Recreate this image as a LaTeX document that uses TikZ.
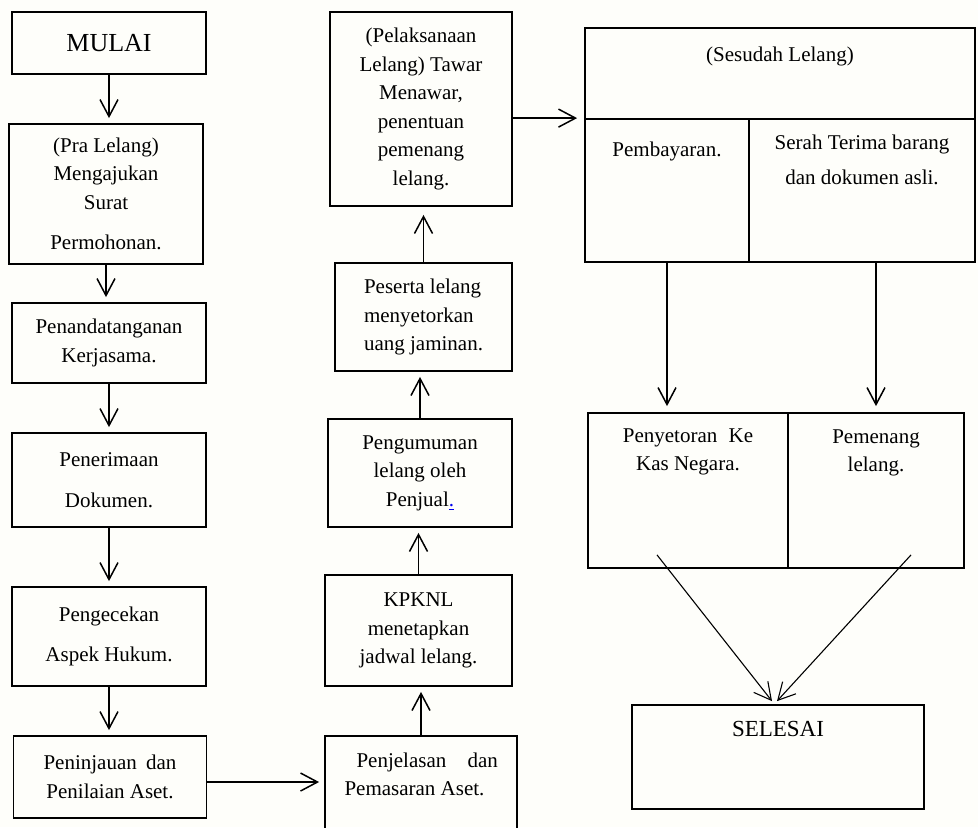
\documentclass[tikz,border=0pt]{standalone}
\usepackage{fontspec}
\setmainfont{Liberation Serif}
\usepackage{xcolor}
\definecolor{paper}{RGB}{254,254,250}
\definecolor{linkblue}{RGB}{0,0,238}
\usetikzlibrary{arrows.meta}
\newcommand{\flowfont}{\fontsize{10.5}{14.25}\selectfont}

\begin{document}
\begin{tikzpicture}[
  x=0.5pt, y=-0.5pt,
  box/.style={draw, line width=0.9pt, align=center, inner sep=2pt, font=\flowfont},
  cell/.style={draw, line width=0.9pt, inner sep=0pt},
  toptext/.style={anchor=north, inner sep=0pt, align=center, font=\flowfont},
  arr/.style={-{Straight Barb[length=8.5pt, width=9pt]}, line width=0.75pt, shorten >=2.5pt},
  thinarr/.style={-{Straight Barb[length=8.5pt, width=9pt]}, line width=0.55pt},
]
  \clip (0,0) rectangle (978,827);
  \fill[paper] (0,0) rectangle (978,827);

  % pra lelang column
  \node[box, minimum width=97pt, minimum height=31pt, font=\fontsize{13}{15}\selectfont] (mulai) at (109,43) {MULAI};
  \node[box, minimum width=97pt, minimum height=70pt] (pra) at (106,194)
    {(Pra Lelang)\\Mengajukan\\Surat\\[6pt]Permohonan.};
  \node[box, minimum width=97pt, minimum height=40pt] (tanda) at (109,343) {Penandatanganan\\Kerjasama.};
  \node[box, minimum width=97pt, minimum height=47pt] (terima) at (109,480) {Penerimaan\\[6pt]Dokumen.};
  \node[box, minimum width=97pt, minimum height=49.5pt] (cek) at (109,636.5) {Pengecekan\\[6pt]Aspek Hukum.};
  \node[box, minimum width=96.5pt, minimum height=41pt] (tinjau) at (110,777) {Peninjauan\hspace{2pt} dan\\Penilaian Aset.};

  % pelaksanaan column
  \node[cell, minimum width=96pt, minimum height=57pt,
        label={[toptext, anchor=north west, align=left, xshift=10pt, yshift=-8.5pt]north west:\hspace*{6pt}Penjelasan\hspace{8pt} dan\\Pemasaran Aset.}] (jelas) at (421,793) {};
  \node[box, minimum width=93.5pt, minimum height=55.5pt] (jadwal) at (418.5,630.5) {KPKNL\\menetapkan\\jadwal lelang.};
  \node[box, minimum width=92pt, minimum height=54pt] (umum) at (420,473)
    {Pengumuman\\lelang oleh\\Penjual\textcolor{linkblue}{\underline{.}}};
  \node[box, minimum width=88.5pt, minimum height=54pt, align=left] (peserta) at (423.5,317)
    {Peserta lelang\\menyetorkan\\uang jaminan.};
  \node[box, minimum width=91pt, minimum height=97pt] (lelang) at (421,109)
    {(Pelaksanaan\\Lelang) Tawar\\Menawar,\\penentuan\\pemenang\\lelang.};

  % sesudah lelang
  \node[cell, minimum width=195pt, minimum height=45.5pt,
        label={[toptext, yshift=-9.5pt]north:(Sesudah Lelang)}] (sesudah) at (780,73.5) {};
  \node[cell, minimum width=82pt, minimum height=71.5pt,
        label={[toptext, yshift=-11.5pt]north:Pembayaran.}] (bayar) at (667,190.5) {};
  \node[cell, minimum width=113pt, minimum height=71.5pt,
        label={[toptext, yshift=-8pt]north:Serah Terima barang\\[3.25pt]dan dokumen asli.}] (serah) at (862,190.5) {};
  \node[cell, minimum width=100pt, minimum height=77.5pt,
        label={[toptext, yshift=-8pt]north:Penyetoran\hspace{3pt} Ke\\Kas Negara.}] (setor) at (688,490.5) {};
  \node[cell, minimum width=88pt, minimum height=77.5pt,
        label={[toptext, yshift=-8.5pt]north:Pemenang\\lelang.}] (menang) at (876,490.5) {};
  \node[cell, minimum width=146pt, minimum height=52pt,
        label={[toptext, yshift=-8.5pt, font=\fontsize{11.5}{14}\selectfont]north:SELESAI}] (selesai) at (778,757) {};

  \draw[arr] (mulai.south) -- (mulai.south |- pra.north);
  \draw[arr] (pra.south) -- (pra.south |- tanda.north);
  \draw[arr] (tanda.south) -- (tanda.south |- terima.north);
  \draw[arr] (terima.south) -- (terima.south |- cek.north);
  \draw[arr] (cek.south) -- (cek.south |- tinjau.north);
  \draw[arr] ([yshift=-2.5pt]tinjau.east) -- ([yshift=-2.5pt]tinjau.east -| jelas.west);
  \draw[arr] (jelas.north) -- (jelas.north |- jadwal.south);
  \draw[arr] (jadwal.north) -- (jadwal.north |- umum.south);
  \draw[arr] (umum.north) -- (umum.north |- peserta.south);
  \draw[arr, shorten >=4pt] (peserta.north) -- (peserta.north |- lelang.south);
  \draw[arr, shorten >=3.5pt] (lelang.east |- bayar.north west) -- (bayar.north west);
  \draw[arr, shorten >=3pt] (bayar.south) -- (bayar.south |- setor.north);
  \draw[arr, shorten >=3pt] (menang.north |- serah.south) -- (menang.north);
  \draw[thinarr] ([xshift=-15.5pt, yshift=7pt]setor.south) -- ([xshift=-3pt, yshift=1.5pt]selesai.north);
  \draw[thinarr] ([xshift=17.5pt, yshift=7pt]menang.south) -- ([xshift=-0.5pt, yshift=1.5pt]selesai.north);
\end{tikzpicture}
\end{document}
